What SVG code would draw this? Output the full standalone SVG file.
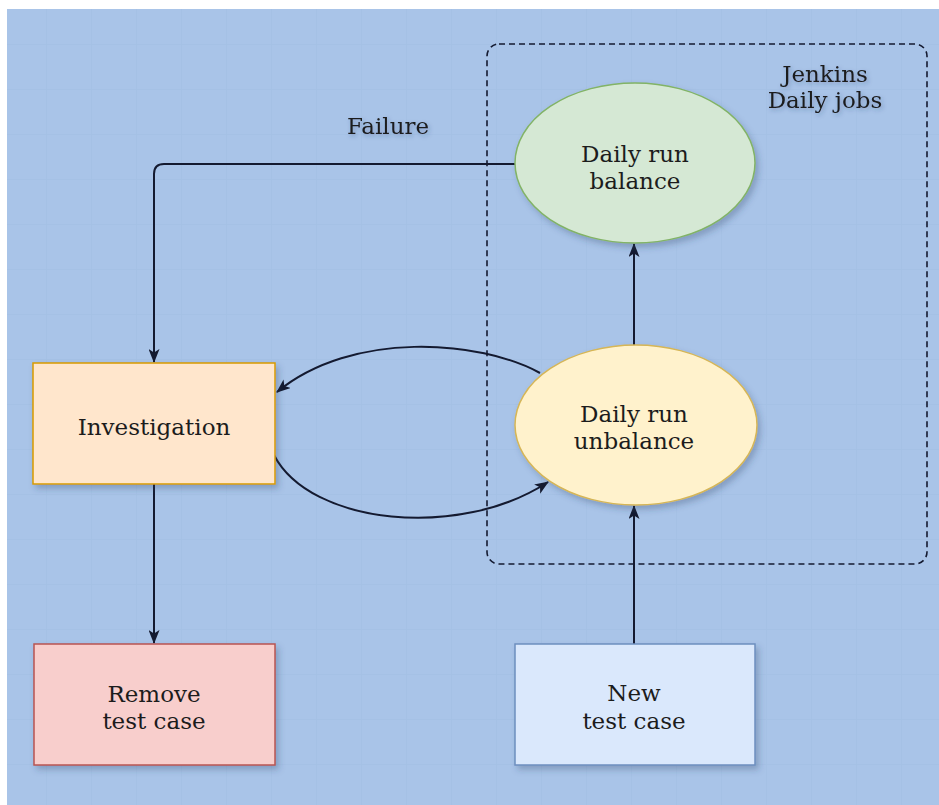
<svg xmlns="http://www.w3.org/2000/svg" width="939" height="805" viewBox="0 0 939 805">
  <defs>
    <filter id="shadow" x="-20%" y="-20%" width="150%" height="150%">
      <feDropShadow dx="3" dy="4" stdDeviation="3" flood-color="#2a3d66" flood-opacity="0.3"/>
    </filter>
    <filter id="textShadow" x="-20%" y="-40%" width="140%" height="200%">
      <feDropShadow dx="1.5" dy="2" stdDeviation="2" flood-color="#2a3d66" flood-opacity="0.35"/>
    </filter>
    <marker id="arrow" viewBox="0 0 14 11" refX="13" refY="5.5" markerWidth="14" markerHeight="11" markerUnits="userSpaceOnUse" orient="auto">
      <path d="M0,0 L14,5.5 L0,11 L3.5,5.5 Z" fill="#141a30"/>
    </marker>
    <pattern id="grid" x="2" y="0" width="45" height="45" patternUnits="userSpaceOnUse">
      <path d="M45,0 V45 M0,45 H45" fill="none" stroke="#9fbbe0" stroke-width="1.5" opacity="0.5"/>
    </pattern>
  </defs>
  <style>
    .label { font-family: "DejaVu Serif", "Liberation Serif", serif; font-size: 23px; fill: #1c1c1c; text-anchor: middle; }
    .edge { fill: none; stroke: #141a30; stroke-width: 2; }
    .node { filter: url(#shadow); stroke-width: 1.5; }
  </style>

  <!-- canvas -->
  <rect x="0" y="0" width="939" height="805" fill="#ffffff"/>
  <rect x="7" y="9" width="932" height="796" fill="#a9c4e8"/>
  <rect x="7" y="9" width="932" height="796" fill="url(#grid)"/>

  <!-- Jenkins container -->
  <g id="jenkins-group">
    <rect x="487" y="44" width="440" height="520" rx="12" ry="12" fill="none" stroke="#141a30" stroke-width="1.6" stroke-dasharray="6 4"/>
    <g filter="url(#textShadow)">
      <text class="label" x="825" y="82">Jenkins</text>
      <text class="label" x="825" y="108">Daily jobs</text>
    </g>
  </g>

  <!-- connectors -->
  <g id="connectors">
    <path class="edge" d="M515,164 H164 Q154,164 154,174 V362" marker-end="url(#arrow)"/>
    <path class="edge" d="M634,345 V244" marker-end="url(#arrow)"/>
    <path class="edge" d="M634,644 V506" marker-end="url(#arrow)"/>
    <path class="edge" d="M154,484 V643" marker-end="url(#arrow)"/>
    <path class="edge" d="M540,373 C480,340 352,330 277,392" marker-end="url(#arrow)"/>
    <path class="edge" d="M274,455 C310,525 460,540 548,482" marker-end="url(#arrow)"/>
    <text class="label" x="388" y="134" filter="url(#textShadow)">Failure</text>
  </g>

  <!-- nodes -->
  <g id="daily-run-balance">
    <ellipse class="node" cx="635" cy="163" rx="120" ry="80" fill="#d5e8d4" stroke="#82b366"/>
    <text class="label" x="635" y="162">Daily run</text>
    <text class="label" x="635" y="189">balance</text>
  </g>

  <g id="daily-run-unbalance">
    <ellipse class="node" cx="636" cy="425" rx="121" ry="80" fill="#fff2cc" stroke="#d6b656"/>
    <text class="label" x="634" y="422">Daily run</text>
    <text class="label" x="634" y="449">unbalance</text>
  </g>

  <g id="investigation">
    <rect class="node" x="33" y="363" width="242" height="121" fill="#ffe6cc" stroke="#d79b00"/>
    <text class="label" x="154" y="435">Investigation</text>
  </g>

  <g id="remove-test-case">
    <rect class="node" x="34" y="644" width="241" height="121" fill="#f8cecc" stroke="#b85450"/>
    <text class="label" x="154" y="702">Remove</text>
    <text class="label" x="154" y="729">test case</text>
  </g>

  <g id="new-test-case">
    <rect class="node" x="515" y="644" width="240" height="121" fill="#dae8fc" stroke="#6c8ebf"/>
    <text class="label" x="634" y="701">New</text>
    <text class="label" x="634" y="729">test case</text>
  </g>
</svg>
